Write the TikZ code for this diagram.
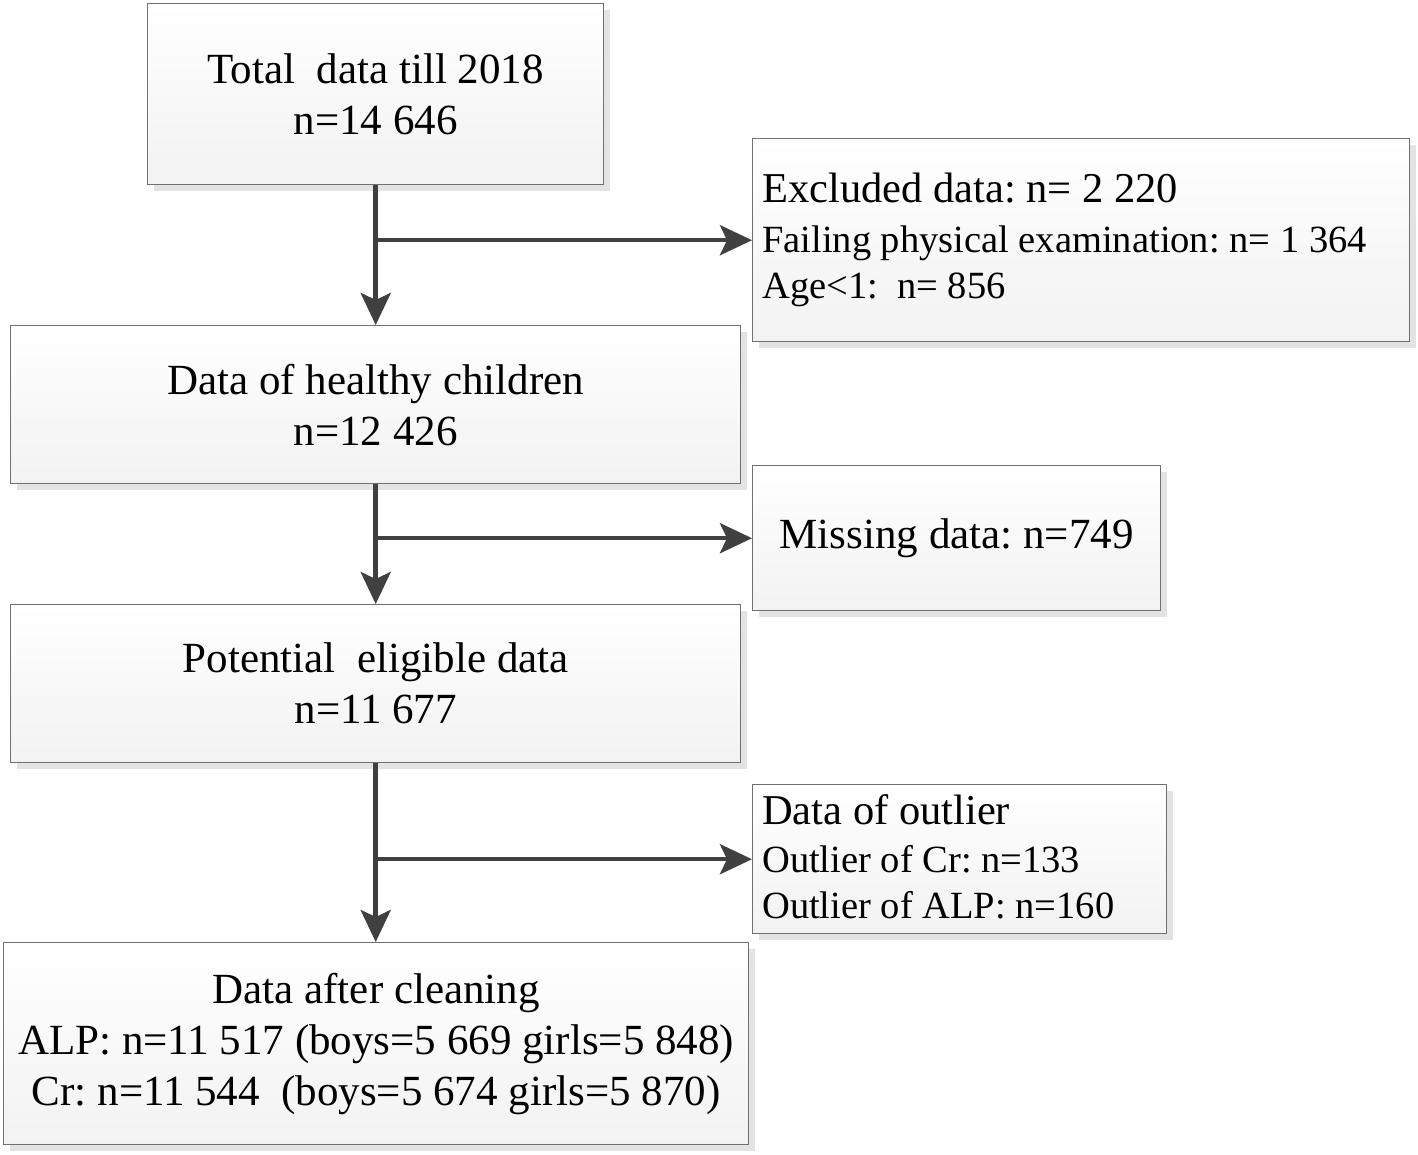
\documentclass[tikz,border=0pt]{standalone}
\usepackage{fontspec}
\setmainfont{Liberation Serif}
\AtBeginDocument{\frenchspacing}
\usetikzlibrary{arrows.meta,shadows}
\definecolor{arrowgray}{HTML}{404040}
\definecolor{bordergray}{HTML}{707070}
\tikzset{
  box/.style={draw=bordergray, line width=1.4pt, top color=white, bottom color=gray!10,
    drop shadow={shadow xshift=6pt, shadow yshift=-6pt, fill=gray!22, opacity=1},
    inner sep=0pt, anchor=north west},
  bigtext/.style={font=\fontsize{43}{51}\selectfont},
  sidetext/.style={inner sep=0pt, anchor=west, align=left, font=\fontsize{38.5}{46}\selectfont},
  arr/.style={draw=arrowgray, line width=4.5pt, -{Stealth[length=32pt,width=30pt,inset=7pt]}}
}
\newcommand{\headfont}{\fontsize{42.5}{50}\selectfont}
\begin{document}
\begin{tikzpicture}[x=1pt,y=-1pt]
\useasboundingbox (0,0) rectangle (1418,1154);
\fill[white] (0,0) rectangle (1418,1154);

\node[box, bigtext, align=center, minimum width=456pt, minimum height=181pt] (total) at (147,3)
  {Total\ \ data till 2018\\n=14 646};

\node[box, minimum width=657pt, minimum height=203pt] (excl) at (752,138) {};
\node[sidetext] (excltext) at ([xshift=10pt]excl.west)
  {{\headfont Excluded data: n= 2 220}\\[4pt]Failing physical examination: n= 1 364\\Age<1:\ \ n= 856};

\node[box, bigtext, align=center, minimum width=730pt, minimum height=158pt] (healthy) at (10,325)
  {Data of healthy children\\n=12 426};

\node[box, bigtext, align=center, minimum width=408pt, minimum height=145pt] (missing) at (752,465)
  {Missing data: n=749};

\node[box, bigtext, align=center, minimum width=730pt, minimum height=158pt] (potential) at (10,604)
  {Potential\ \ eligible data\\n=11 677};

\node[box, minimum width=414pt, minimum height=149pt] (outlier) at (752,784) {};
\node[sidetext] (outliertext) at ([xshift=10pt,yshift=2pt]outlier.west)
  {{\headfont Data of outlier}\\[2pt]Outlier of Cr: n=133\\Outlier of ALP: n=160};

\node[box, bigtext, align=center, minimum width=745pt, minimum height=202pt] (clean) at (3,942)
  {Data after cleaning\\ALP: n=11 517 (boys=5 669 girls=5 848)\\Cr: n=11 544\ \ (boys=5 674 girls=5 870)};

\draw[arr] (total.south) -- (healthy.north);
\draw[arr] (total.south |- excl.west) -- (excl.west);
\draw[arr] (healthy.south) -- (potential.north);
\draw[arr] (healthy.south |- missing.west) -- (missing.west);
\draw[arr] (potential.south) -- (clean.north -| potential.south);
\draw[arr] (potential.south |- outlier.west) -- (outlier.west);
\end{tikzpicture}
\end{document}
